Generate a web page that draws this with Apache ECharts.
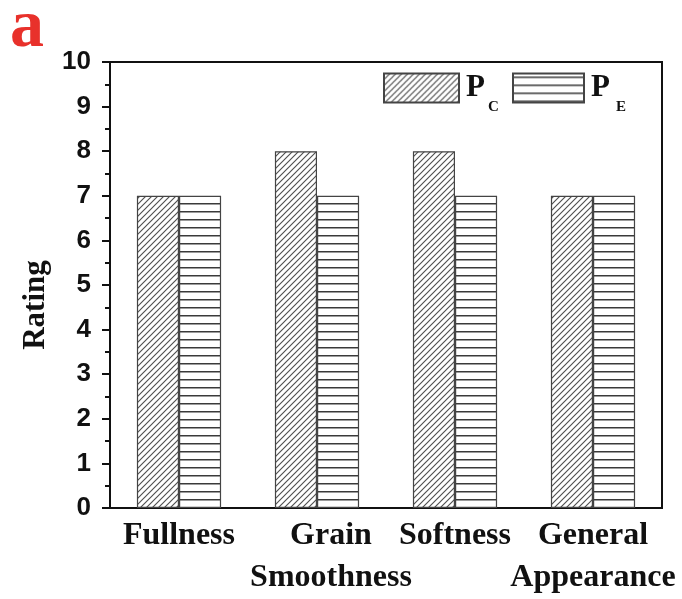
<!DOCTYPE html>
<html><head><meta charset="utf-8">
<script src="https://cdn.jsdelivr.net/npm/echarts@6/dist/echarts.min.js"></script>
<style>html,body{margin:0;padding:0;background:#fff}#c{width:682px;height:599px}</style>
</head><body><div id="c"></div>
<script>
var categories = ['Fullness', 'Grain\nSmoothness', 'Softness', 'General\nAppearance'];
var pcValues = [7, 8, 8, 7];
var peValues = [7, 7, 7, 7];
var seriesNames = ['PC', 'PE'];
var legendSubscripts = ['C', 'E'];

function diagPattern() {
  var s = 6, c = document.createElement('canvas');
  c.width = s; c.height = s;
  var g = c.getContext('2d');
  g.fillStyle = '#fff'; g.fillRect(0, 0, s, s);
  g.strokeStyle = '#505050'; g.lineWidth = 1.15;
  g.beginPath();
  g.moveTo(0, s); g.lineTo(s, 0);
  g.moveTo(-s/2, s/2); g.lineTo(s/2, -s/2);
  g.moveTo(s/2, s*1.5); g.lineTo(s*1.5, s/2);
  g.stroke();
  return c;
}
function horizPattern() {
  var w = 8, h = 8, c = document.createElement('canvas');
  c.width = w; c.height = h;
  var g = c.getContext('2d');
  g.fillStyle = '#fff'; g.fillRect(0, 0, w, h);
  g.fillStyle = '#3a3a3a'; g.fillRect(0, 3, w, 1.5);
  return c;
}

var chart = echarts.init(document.getElementById('c'));
var serif = '"Liberation Serif", "Times New Roman", serif';
var sans = '"Liberation Sans", Arial, sans-serif';
var legendText = { fontFamily: serif, fontWeight: 'bold', fontSize: 31, color: '#111', lineHeight: 30, padding: [0, 0, 0, 2] };
function legendFmt(name) { return name.charAt(0); }
var subFont = 'bold 15px ' + serif;

chart.setOption({
  animation: false,
  graphic: [
    { type: 'text', x: 10, y: -6, style: { text: 'a', fill: '#e8312b', font: 'bold 68px ' + serif } },
    { type: 'text', x: 488, y: 100, style: { text: legendSubscripts[0], fill: '#111', font: subFont } },
    { type: 'text', x: 616, y: 100, style: { text: legendSubscripts[1], fill: '#111', font: subFont } }
  ],
  grid: { left: 110, right: 20, top: 62, bottom: 88, show: true, borderColor: '#111', borderWidth: 2, backgroundColor: 'transparent' },
  legend: [
    { data: [seriesNames[0]], left: 383, top: 72.5, padding: 0, itemWidth: 75, itemHeight: 29, icon: 'rect', formatter: legendFmt, textStyle: legendText, selectedMode: false },
    { data: [seriesNames[1]], left: 512, top: 72.5, padding: 0, itemWidth: 71, itemHeight: 29, icon: 'rect', formatter: legendFmt, textStyle: legendText, selectedMode: false }
  ],
  xAxis: {
    type: 'category',
    data: categories.map(function (c, i) {
      return i === 1 ? { value: c, textStyle: { padding: [0, 0, 0, 28] } } : c;
    }),
    axisLine: { lineStyle: { color: '#111', width: 2 } },
    axisTick: { show: false },
    axisLabel: { fontFamily: serif, fontWeight: 'bold', fontSize: 32, color: '#111', lineHeight: 42, margin: 7, interval: 0 }
  },
  yAxis: {
    type: 'value', min: 0, max: 10, interval: 1,
    name: 'Rating', nameLocation: 'middle', nameGap: 50,
    nameTextStyle: { fontFamily: serif, fontWeight: 'bold', fontSize: 31, color: '#111', padding: [0, 40, 0, 0] },
    axisLine: { show: true, lineStyle: { color: '#111', width: 2 } },
    axisTick: { show: true, inside: false, length: 8, lineStyle: { color: '#111', width: 2 } },
    minorTick: { show: true, splitNumber: 2, length: 5, lineStyle: { color: '#111', width: 2 } },
    splitLine: { show: false },
    axisLabel: { fontFamily: sans, fontWeight: 'bold', fontSize: 26, color: '#111', margin: 19 }
  },
  series: [
    { name: seriesNames[0], type: 'bar', data: pcValues, barGap: '0%', barCategoryGap: '39%',
      itemStyle: { color: { image: diagPattern(), repeat: 'repeat' }, borderColor: '#444', borderWidth: 1.2 } },
    { name: seriesNames[1], type: 'bar', data: peValues, barGap: '0%', barCategoryGap: '39%',
      itemStyle: { color: { image: horizPattern(), repeat: 'repeat' }, borderColor: '#444', borderWidth: 1.2 } }
  ]
});
</script></body></html>
